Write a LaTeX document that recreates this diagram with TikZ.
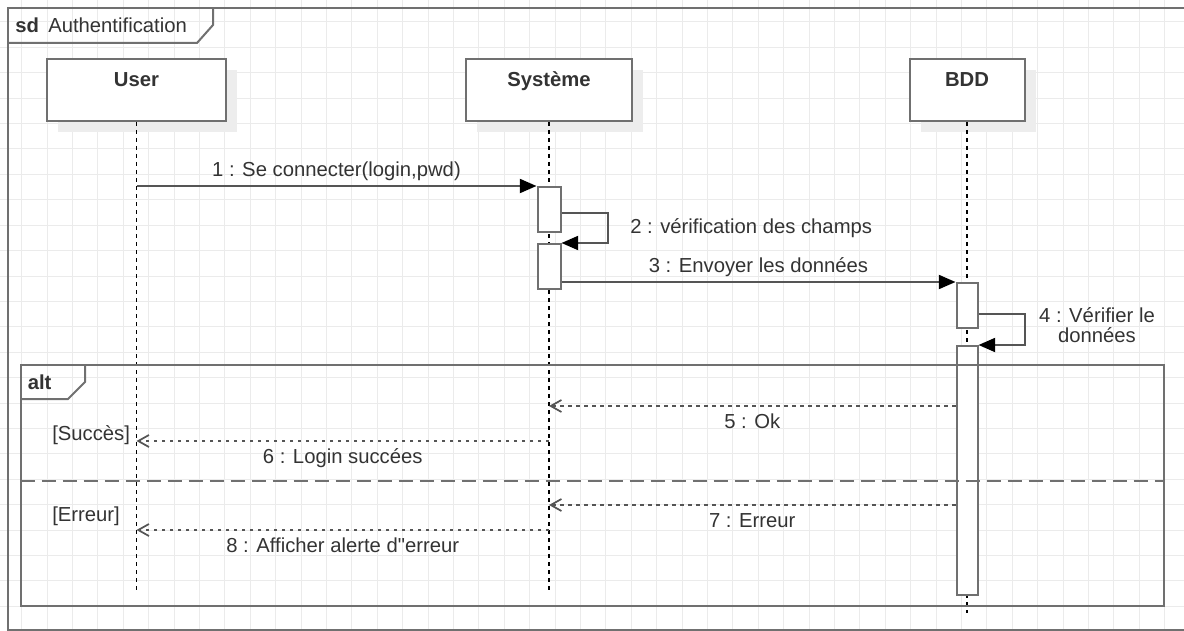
\documentclass[tikz,border=0pt]{standalone}
\usepackage{fontspec}
\setmainfont[Ligatures=TeXOff]{Liberation Sans}
\usetikzlibrary{arrows.meta, positioning, shadows}
\definecolor{ink}{HTML}{333333}
\definecolor{frame}{HTML}{707070}
\definecolor{wire}{HTML}{555555}
\definecolor{gridc}{HTML}{EBEBEB}

\begin{document}
\begin{tikzpicture}[x=0.75pt, y=-0.75pt, text=ink, font=\fontsize{15.2}{14.7}\selectfont,
    fr/.style={draw=frame, line width=1.5pt},
    head/.style={fr, fill=white, minimum height=46.5pt, inner sep=0pt,
      general shadow={fill=black!7, shadow xshift=8.25pt, shadow yshift=-8.25pt}},
    act/.style={fr, fill=white, anchor=north, inner sep=0pt},
    lifeline/.style={draw=black, line width=1pt, dash pattern=on 3pt off 3pt},
    msg/.style={draw=wire, line width=1.5pt, -{Triangle[length=12.5pt, width=10.5pt, color=black, fill=black]}},
    ret/.style={draw=wire, line width=1.3pt, dash pattern=on 2.5pt off 3.5pt, -{Straight Barb[length=8pt, width=9pt]}},
    sep/.style={draw=frame, line width=2pt, dash pattern=on 11pt off 4.75pt},
    lbl/.style={anchor=base, inner sep=0pt},
    title/.style={lbl, font=\fontsize{15.2}{14.7}\selectfont\bfseries},
    uplbl/.style={lbl, yshift=7.5pt},
    downlbl/.style={lbl, yshift=-16.5pt}]

  \useasboundingbox (0,0) rectangle (1184,631);
  \begin{scope}[shift={(21.7,22)}]
    \draw[gridc, line width=0.75pt, step=19.05pt] (-21.7,609) grid (1162.3,-22);
  \end{scope}

  % sd frame
  \draw[fr] (8,8) rectangle (1192,630);
  \draw[fr] (8,43) -- (197,43) -- (213,25) -- (213,8);
  \node[title, anchor=base west] (sdtag) at (15,33) {sd};
  \node[lbl, anchor=base west] (sdname) at (48,33) {Authentification};

  \node[head, minimum width=134.25pt] (user) at (136.5,90) {};
  \node[head, minimum width=124.5pt] (sys) at (549,90) {};
  \node[head, minimum width=86.25pt] (bdd) at (967,90) {};
  \node[title] (usertxt) at (136.5,87) {User};
  \node[title] (systxt) at (549,87) {Système};
  \node[title] (bddtxt) at (967,87) {BDD};

  \coordinate (userend) at (136.5,593);
  \coordinate (sysend) at (549,593);
  \coordinate (bddend) at (967,613);
  \draw[lifeline] (user.south) -- (userend);
  \draw[lifeline] (sys.south) -- (sysend);
  \draw[lifeline] (bdd.south) -- (bddend);

  \node[act, minimum width=17.25pt, minimum height=33.75pt] (act1) at (549,186) {};
  \node[act, minimum width=17.25pt, minimum height=33.75pt] (act2) at (549,243) {};
  \node[act, minimum width=15.75pt, minimum height=33.75pt] (act3) at (967,282) {};
  \node[act, minimum width=15.75pt, minimum height=186.75pt] (act4) at (967,345) {};

  \coordinate (u1) at (136.5,186);
  \draw[msg] (u1) -- (act1.north west) node[uplbl, midway] {1 : Se connecter(login,pwd)};
  \draw[msg] ([yshift=-2.4pt]act1.east) -- ++(46.5,0) |- (act2.north east);
  \node[lbl, anchor=base west] (m2) at (630,233) {2 : vérification des champs};
  \draw[msg] (act2.east |- act3.north west) -- (act3.north west) node[uplbl, midway] {3 : Envoyer les données};
  \draw[msg] ([yshift=-6.5pt]act3.east) -- ++(46.5,0) |- (act4.north east);
  \node[lbl, anchor=center, align=center] (m4) at (1097,325) {4 : Vérifier le\\données};

  % alt fragment
  \draw[fr] (20.5,365) rectangle (1164,606);
  \draw[fr] (20.5,399) -- (68,399) -- (85,382) -- (85,365);
  \node[title, anchor=base west] (alttag) at (27.5,389) {alt};
  \draw[sep] (20.5,481) -- (1164,481);
  \node[lbl, anchor=base west] (okguard) at (52,440) {[Succès]};
  \node[lbl, anchor=base west] (errguard) at (52,521) {[Erreur]};

  \coordinate (s5) at (549,406);
  \draw[ret] (act4.west |- s5) -- (s5) node[downlbl, midway] {5 : Ok};
  \coordinate (s6) at (549,441);
  \coordinate (u6) at (136.5,441);
  \draw[ret] (s6) -- (u6) node[downlbl, midway] {6 : Login succées};
  \coordinate (s7) at (549,505);
  \draw[ret] (act4.west |- s7) -- (s7) node[downlbl, midway] {7 : Erreur};
  \coordinate (s8) at (549,530);
  \coordinate (u8) at (136.5,530);
  \draw[ret] (s8) -- (u8) node[downlbl, midway] {8 : Afficher alerte d"erreur};
\end{tikzpicture}
\end{document}
